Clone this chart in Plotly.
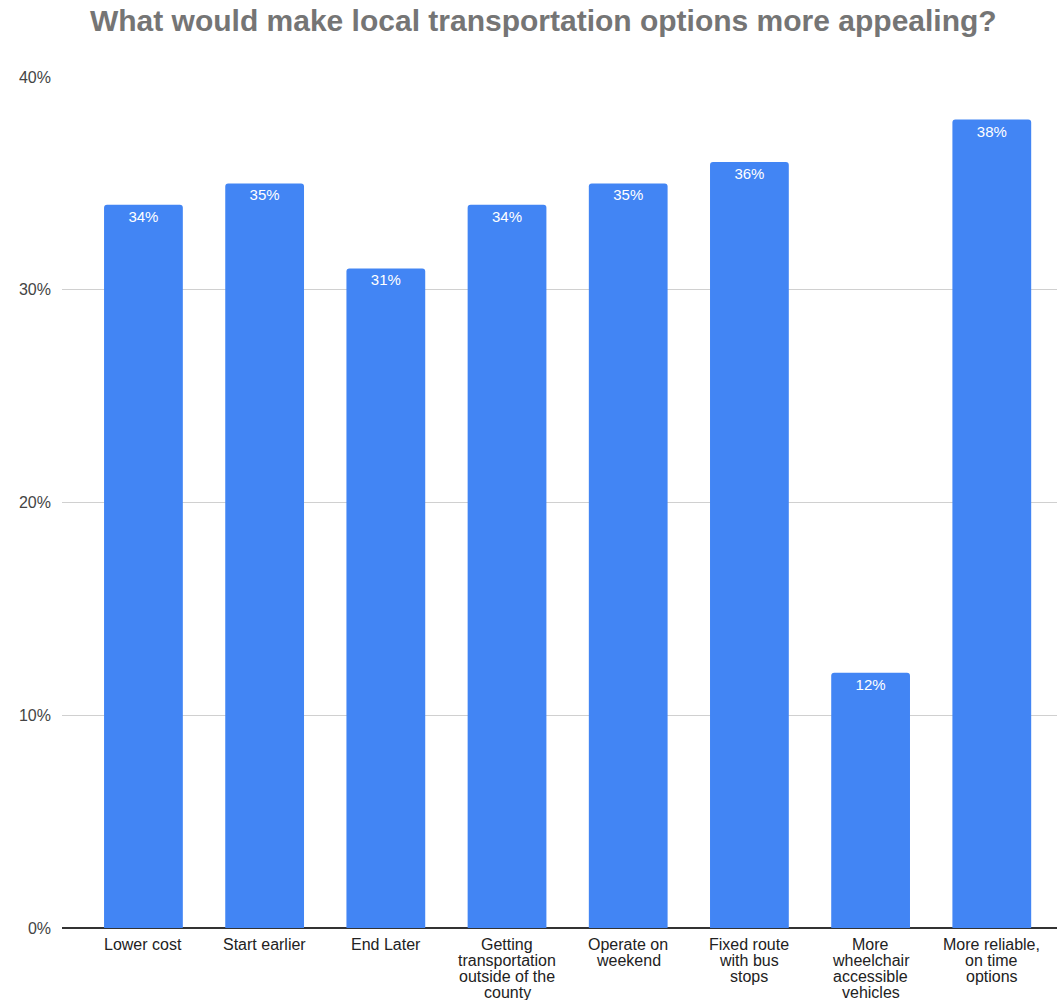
import plotly.graph_objects as go

categories = [
    "Lower cost",
    "Start earlier",
    "End Later",
    "Getting<br>transportation<br>outside of the<br>county",
    "Operate on<br>weekend",
    "Fixed route<br>with bus<br>stops",
    "More<br>wheelchair<br>accessible<br>vehicles",
    "More reliable,<br>on time<br>options",
]
values = [34, 35, 31, 34, 35, 36, 12, 38]
labels = [f"{v}%" for v in values]
ytick_vals = [0, 10, 20, 30, 40]
ytick_text = ["0%", "10%", "20%", "30%", "40%"]

FONT = "Liberation Sans, Arial, sans-serif"
xs = list(range(len(categories)))

fig = go.Figure(
    go.Bar(
        x=xs,
        y=values,
        text=labels,
        textposition="inside",
        insidetextanchor="end",
        textangle=0,
        textfont=dict(family=FONT, size=15, color="white"),
        marker=dict(color="#4285F4", line=dict(width=0)),
        width=0.65,
        hoverinfo="skip",
    )
)

# Category labels with tight line spacing (one annotation per line)
annotations = []
line_h = 16
for i, cat in enumerate(categories):
    for k, line in enumerate(cat.split("<br>")):
        annotations.append(dict(
            x=i, y=0, xref="x", yref="y",
            text=line, showarrow=False,
            xanchor="center", yanchor="top",
            yshift=-6 - k * line_h,
            font=dict(family=FONT, size=16, color="#222222"),
        ))

fig.update_layout(
    width=1057,
    height=1000,
    margin=dict(l=62, r=0, t=77, b=72),
    paper_bgcolor="white",
    plot_bgcolor="white",
    barcornerradius=3,
    showlegend=False,
    font=dict(family=FONT),
    annotations=annotations,
    title=dict(
        text="<b>What would make local transportation options more appealing?</b>",
        x=0.514,
        xanchor="center",
        y=0.98,
        yanchor="middle",
        font=dict(family=FONT, size=30, color="#757575"),
    ),
    xaxis=dict(
        tickmode="array",
        tickvals=xs,
        ticktext=[""] * len(xs),
        range=[-0.672, 7.538],
        showgrid=False,
        zeroline=False,
        showline=False,
        ticks="",
        fixedrange=True,
    ),
    yaxis=dict(
        range=[0, 40],
        tickmode="array",
        tickvals=ytick_vals,
        ticktext=ytick_text,
        showgrid=True,
        gridcolor="#d0d0d0",
        gridwidth=1,
        zeroline=True,
        zerolinecolor="#333333",
        zerolinewidth=1.5,
        showline=False,
        ticks="",
        ticklabelstandoff=10,
        tickfont=dict(size=16, color="#444444"),
        fixedrange=True,
    ),
)

fig.write_html(
    "out.html",
    config={"displayModeBar": False},
    post_script="document.body.style.margin='0';",
)
